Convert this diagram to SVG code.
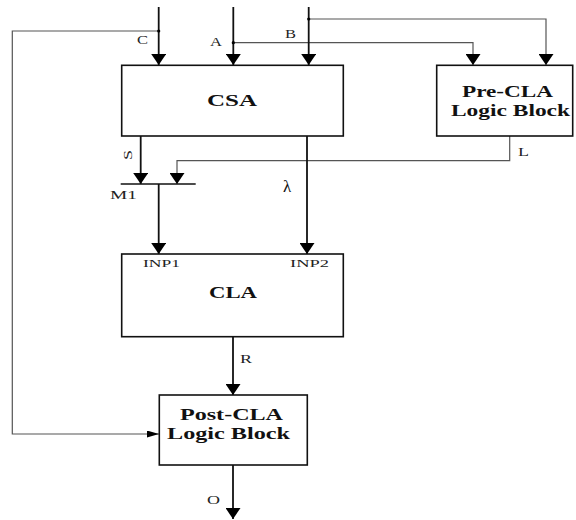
<svg xmlns="http://www.w3.org/2000/svg" width="576" height="520" viewBox="0 0 576 520">
<style>
.box{fill:#fff;stroke:#111;stroke-width:1.6}
.v{fill:none;stroke:#111;stroke-width:1.8}
.h{fill:none;stroke:#555;stroke-width:1.2}
.big{font-family:"Liberation Serif",serif;font-weight:bold;font-size:16px;fill:#111}
.sm{font-family:"Liberation Serif",serif;font-size:12px;fill:#222}
.tiny{font-family:"Liberation Serif",serif;font-size:10px;fill:#222}
</style>
<defs>
<marker id="ah" viewBox="0 0 11 15" refX="11" refY="7.5" markerWidth="11" markerHeight="15" markerUnits="userSpaceOnUse" orient="auto">
<path d="M0,0 L11,7.5 L0,15 z" fill="#000"/>
</marker>
<marker id="as" viewBox="0 0 12 7" refX="12" refY="3.5" markerWidth="12" markerHeight="7" markerUnits="userSpaceOnUse" orient="auto">
<path d="M0,0 L12,3.5 L0,7 z" fill="#000"/>
</marker>
</defs>
<rect width="576" height="520" fill="#fff"/>
<g id="connectors">
<path class="h" d="M158.7,31 H12.3 V434 H159" marker-end="url(#as)"/>
<path class="h" d="M233.3,42.7 H473 V65" marker-end="url(#ah)"/>
<path class="h" d="M308.7,19 H546 V65" marker-end="url(#ah)"/>
<path class="v" d="M158.7,7 V65" marker-end="url(#ah)"/>
<path class="v" d="M233.3,7 V65" marker-end="url(#ah)"/>
<path class="v" d="M308.7,7 V65" marker-end="url(#ah)"/>
<circle cx="158.7" cy="31" r="1.6" fill="#000"/>
<circle cx="233.3" cy="42.7" r="1.6" fill="#000"/>
<circle cx="308.7" cy="19" r="1.6" fill="#000"/>
<path class="v" d="M140.7,136 V184" marker-end="url(#ah)"/>
<path class="h" d="M509.7,136 V160.7 H177 V184" marker-end="url(#ah)"/>
<path class="v" d="M158.7,184 V254" marker-end="url(#ah)"/>
<path class="v" d="M307,136 V254" marker-end="url(#ah)"/>
<path class="v" d="M233,336 V395" marker-end="url(#ah)"/>
<path class="v" d="M233,465 V519" marker-end="url(#ah)"/>
<text class="sm" x="137" y="44" textLength="11" lengthAdjust="spacingAndGlyphs">C</text>
<text class="sm" x="210" y="46" textLength="12" lengthAdjust="spacingAndGlyphs">A</text>
<text class="sm" x="285" y="38" textLength="11" lengthAdjust="spacingAndGlyphs">B</text>
<text class="sm" transform="translate(132,160) rotate(-90)" textLength="10" lengthAdjust="spacingAndGlyphs">S</text>
<text class="sm" x="518" y="156" textLength="11" lengthAdjust="spacingAndGlyphs">L</text>
<text class="sm" x="240" y="363" textLength="12" lengthAdjust="spacingAndGlyphs">R</text>
<text class="sm" x="207" y="504" textLength="13" lengthAdjust="spacingAndGlyphs">O</text>
<text class="big" x="283" y="192" style="font-weight:normal;font-size:17px">λ</text>
</g>
<g id="M1">
<path d="M120.7,184 H195.7" stroke="#111" stroke-width="1.6"/>
<text class="sm" x="110" y="199" textLength="27" lengthAdjust="spacingAndGlyphs">M1</text>
</g>
<g id="CSA">
<rect class="box" x="121.7" y="65.3" width="221.6" height="70.7"/>
<text class="big" x="207" y="106" textLength="50" lengthAdjust="spacingAndGlyphs">CSA</text>
</g>
<g id="PreCLA">
<rect class="box" x="436.7" y="65.3" width="136" height="70.7"/>
<text class="big" x="462" y="97" textLength="91" lengthAdjust="spacingAndGlyphs">Pre-CLA</text>
<text class="big" x="451" y="116" textLength="119" lengthAdjust="spacingAndGlyphs">Logic Block</text>
</g>
<g id="CLA">
<rect class="box" x="121.7" y="254" width="221.6" height="82.7"/>
<text class="tiny" x="143" y="267" textLength="37" lengthAdjust="spacingAndGlyphs">INP1</text>
<text class="tiny" x="290" y="267" textLength="39" lengthAdjust="spacingAndGlyphs">INP2</text>
<text class="big" x="209" y="298" textLength="48" lengthAdjust="spacingAndGlyphs">CLA</text>
</g>
<g id="PostCLA">
<rect class="box" x="159.3" y="395" width="148" height="70"/>
<text class="big" x="180" y="420" textLength="103" lengthAdjust="spacingAndGlyphs">Post-CLA</text>
<text class="big" x="167" y="439" textLength="123" lengthAdjust="spacingAndGlyphs">Logic Block</text>
</g>
</svg>
